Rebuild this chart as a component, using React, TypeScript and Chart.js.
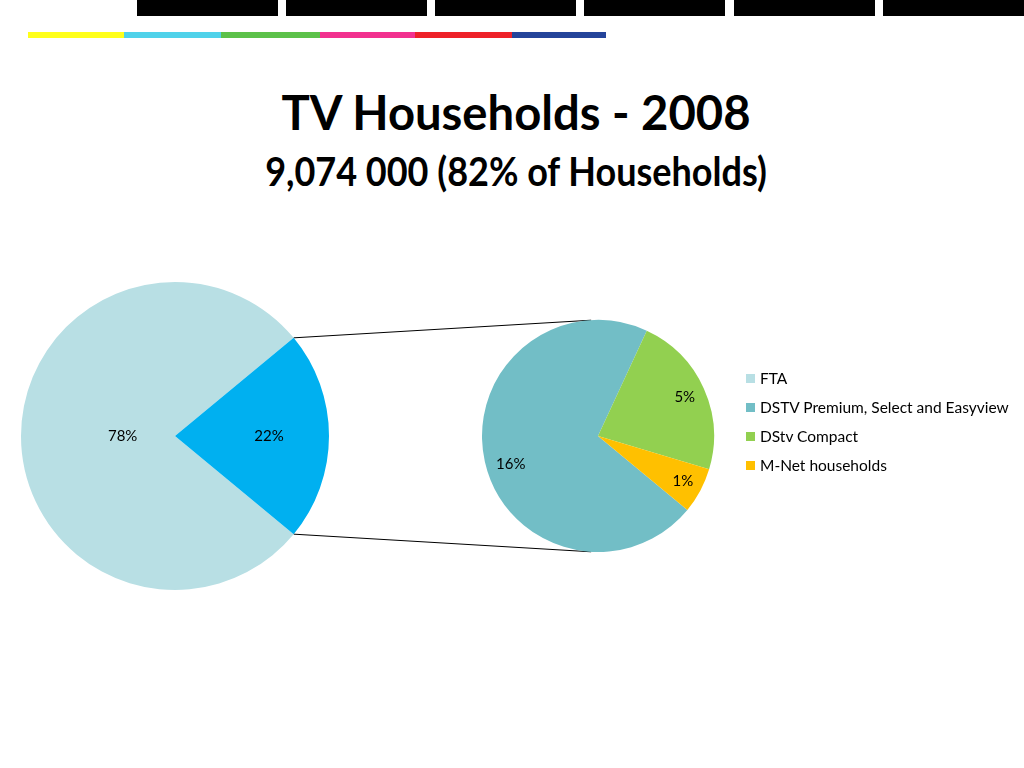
import React, { useEffect, useRef } from "react";
import { Chart, registerables } from "chart.js";

Chart.register(...registerables);

// ---- Data ----
const mainLabels = ["FTA", "DSTV / M-Net"];
const mainValues = [78, 22];
const mainColors = ["#B8DFE4", "#00B0F0"];

const subLabels = ["DSTV Premium, Select and Easyview", "DStv Compact", "M-Net households"];
const subValues = [15.6, 5.0, 1.4];
const subColors = ["#72BEC6", "#92D050", "#FFC000"];

const legendLabels = [mainLabels[0], ...subLabels];
const legendColors = [mainColors[0], ...subColors];

const titleText = "TV Households - 2008";
const subtitleText = "9,074 000 (82% of Households)";

const topBarLefts = [137, 286, 435, 584, 734, 883];
const stripColors = ["#FFFF1A", "#4FD2EA", "#5CC14A", "#F2318F", "#EE2129", "#24449A"];
const stripStops = [28, 124, 221, 320, 415, 512, 606];

const LABEL_FONT = "15px Lato, 'Open Sans', sans-serif";

const pctLabels = {
  id: "pctLabels",
  afterDatasetsDraw(chart: any, _args: any, opts: any) {
    const meta = chart.getDatasetMeta(0);
    const data = chart.data.datasets[0].data as number[];
    const ctx = chart.ctx;
    ctx.save();
    ctx.font = LABEL_FONT;
    ctx.fillStyle = "#000";
    ctx.textAlign = "center";
    ctx.textBaseline = "middle";
    meta.data.forEach((arc: any, i: number) => {
      const p = arc.getProps(["x", "y", "startAngle", "endAngle", "outerRadius"], true);
      const mid = (p.startAngle + p.endAngle) / 2 + ((opts.shift && opts.shift[i]) || 0) * Math.PI / 180;
      const r = p.outerRadius * opts.radii[i];
      ctx.fillText(Math.round(data[i]) + "%", p.x + Math.cos(mid) * r, p.y + Math.sin(mid) * r);
    });
    ctx.restore();
  },
};

const LEFT = { x: 20, y: 281, size: 310, r: 154 };
const RIGHT = { x: 480, y: 318, size: 236, r: 116 };

export default function App() {
  const leftRef = useRef<HTMLCanvasElement>(null);
  const rightRef = useRef<HTMLCanvasElement>(null);
  const lineRef = useRef<HTMLCanvasElement>(null);

  useEffect(() => {
    const total = mainValues.reduce((a, b) => a + b, 0);
    const rotation = 90 + (mainValues[1] / total) * 180;

    const left = new Chart(leftRef.current!, {
      type: "pie",
      data: {
        labels: mainLabels,
        datasets: [
          {
            data: mainValues,
            backgroundColor: mainColors,
            borderWidth: 0,
            hoverOffset: 0,
            radius: LEFT.r,
          } as any,
        ],
      },
      options: {
        responsive: false,
        animation: false,
        rotation,
        layout: { padding: 0 },
        events: [],
        plugins: {
          legend: { display: false },
          tooltip: { enabled: false },
          pctLabels: { radii: [0.34, 0.61] },
        } as any,
      },
      plugins: [pctLabels],
    });

    const right = new Chart(rightRef.current!, {
      type: "pie",
      data: {
        labels: subLabels,
        datasets: [
          {
            data: subValues,
            backgroundColor: subColors,
            borderWidth: 0,
            hoverOffset: 0,
            radius: RIGHT.r,
          } as any,
        ],
      },
      options: {
        responsive: false,
        animation: false,
        rotation,
        layout: { padding: 0 },
        events: [],
        plugins: {
          legend: { display: false },
          tooltip: { enabled: false },
          pctLabels: { radii: [0.79, 0.82, 0.83], shift: [-5, 0, 0] },
        } as any,
      },
      plugins: [pctLabels],
    });

    // connector lines
    const lc = lineRef.current!;
    const ctx = lc.getContext("2d")!;
    ctx.clearRect(0, 0, lc.width, lc.height);
    const arc: any = left.getDatasetMeta(0).data[1];
    const ap = arc.getProps(["x", "y", "startAngle", "endAngle", "outerRadius"], true);
    const cxL = LEFT.x + ap.x;
    const cyL = LEFT.y + ap.y;
    const pTop = [cxL + Math.cos(ap.startAngle) * ap.outerRadius, cyL + Math.sin(ap.startAngle) * ap.outerRadius];
    const pBot = [cxL + Math.cos(ap.endAngle) * ap.outerRadius, cyL + Math.sin(ap.endAngle) * ap.outerRadius];
    const rarc: any = right.getDatasetMeta(0).data[0];
    const rp = rarc.getProps(["x", "y", "outerRadius"], true);
    const cxR = RIGHT.x + rp.x;
    const cyR = RIGHT.y + rp.y;
    const rr = rp.outerRadius;
    const tangent = (P: number[], sign: number) => {
      const dx = P[0] - cxR;
      const dy = P[1] - cyR;
      const d = Math.hypot(dx, dy);
      const phi = Math.atan2(dy, dx);
      const a = phi + sign * Math.acos(rr / d);
      return [cxR + Math.cos(a) * rr, cyR + Math.sin(a) * rr];
    };
    const tTop = tangent(pTop, 1);
    const tBot = tangent(pBot, -1);
    ctx.strokeStyle = "#000";
    ctx.lineWidth = 1;
    ctx.beginPath();
    ctx.moveTo(pTop[0], pTop[1]);
    ctx.lineTo(tTop[0], tTop[1]);
    ctx.moveTo(pBot[0], pBot[1]);
    ctx.lineTo(tBot[0], tBot[1]);
    ctx.stroke();

    return () => {
      left.destroy();
      right.destroy();
    };
  }, []);

  const font = "Lato, 'Open Sans', sans-serif";

  return (
    <div
      style={{
        position: "absolute",
        left: 0,
        top: 0,
        width: 1024,
        height: 768,
        background: "#fff",
        overflow: "hidden",
        fontFamily: font,
      }}
    >
      {topBarLefts.map((x, i) => (
        <div key={"b" + i} style={{ position: "absolute", left: x, top: 0, width: 141, height: 16, background: "#000" }} />
      ))}
      {stripColors.map((c, i) => (
        <div
          key={"s" + i}
          style={{
            position: "absolute",
            left: stripStops[i],
            top: 32,
            width: stripStops[i + 1] - stripStops[i],
            height: 6,
            background: c,
          }}
        />
      ))}
      <div
        style={{
          position: "absolute",
          left: 8,
          width: 1016,
          top: 88,
          textAlign: "center",
          fontSize: 48,
          lineHeight: "48px",
          fontWeight: 700,
          color: "#000",
          whiteSpace: "nowrap",
          transform: "scaleX(0.983)",
        }}
      >
        {titleText}
      </div>
      <div
        style={{
          position: "absolute",
          left: 8,
          width: 1016,
          top: 151,
          textAlign: "center",
          fontSize: 40,
          lineHeight: "40px",
          fontWeight: 700,
          color: "#000",
          whiteSpace: "nowrap",
          transform: "scaleX(0.9)",
        }}
      >
        {subtitleText}
      </div>

      <canvas
        ref={lineRef}
        width={1024}
        height={768}
        style={{ position: "absolute", left: 0, top: 0, width: 1024, height: 768, pointerEvents: "none" }}
      />
      <canvas
        ref={leftRef}
        width={LEFT.size}
        height={LEFT.size}
        style={{ position: "absolute", left: LEFT.x, top: LEFT.y, width: LEFT.size, height: LEFT.size }}
      />
      <canvas
        ref={rightRef}
        width={RIGHT.size}
        height={RIGHT.size}
        style={{ position: "absolute", left: RIGHT.x, top: RIGHT.y, width: RIGHT.size, height: RIGHT.size }}
      />

      {legendLabels.map((l, i) => (
        <div
          key={"l" + i}
          style={{
            position: "absolute",
            left: 746,
            top: 378 + i * 29 - 10,
            height: 20,
            display: "flex",
            alignItems: "center",
            fontSize: 15.5,
            color: "#000",
            whiteSpace: "nowrap",
          }}
        >
          <span style={{ display: "inline-block", width: 9, height: 9, background: legendColors[i], marginRight: 5 }} />
          <span>{l}</span>
        </div>
      ))}
    </div>
  );
}
